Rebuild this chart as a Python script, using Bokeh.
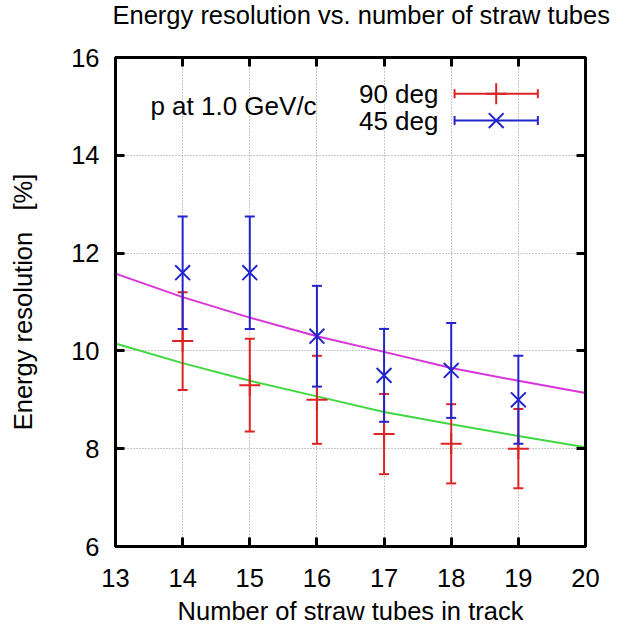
from bokeh.plotting import figure
from bokeh.models import (LinearAxis, Range1d, Label, FixedTicker, Whisker, TeeHead,
                          ColumnDataSource, CustomLabelingPolicy)
from bokeh.embed import file_html
from bokeh.resources import INLINE

# ---- data ----
tubes = [14, 15, 16, 17, 18, 19]
res_90 = [10.2, 9.3, 9.0, 8.3, 8.1, 8.0]
err_90 = [1.0, 0.95, 0.9, 0.82, 0.81, 0.81]
res_45 = [11.6, 11.6, 10.3, 9.5, 9.6, 9.0]
err_45 = [1.15, 1.15, 1.03, 0.95, 0.97, 0.9]
fit_x = [13, 14, 15, 16, 17, 18, 19, 20]
fit_90 = [10.15, 9.75, 9.39, 9.07, 8.75, 8.50, 8.26, 8.03]
fit_45 = [11.58, 11.10, 10.68, 10.30, 9.98, 9.65, 9.39, 9.14]
x_ticks = [13, 14, 15, 16, 17, 18, 19, 20]
y_ticks = [6, 8, 10, 12, 14, 16]
series_labels = ["90 deg", "45 deg"]
title_text = "Energy resolution vs. number of straw tubes"

FONT = "Liberation Sans"
FS = "25.5px"
FS_IN = "26px"
RED = "#dc2424"
BLUE = "#2424cc"
GREEN = "#40d840"
MAGENTA = "#d834d8"

p = figure(frame_width=470, frame_height=489, x_range=Range1d(13, 20), y_range=Range1d(6, 16),
           output_backend="svg", toolbar_location=None,
           min_border_left=115, min_border_right=33, min_border_top=57,
           min_border_bottom=67)
p.title.text = ""
p.title.standoff = 0

p.outline_line_color = "black"
p.outline_line_width = 3
p.outline_line_alpha = 1.0

for ax, ticks in ((p.xaxis[0], x_ticks), (p.yaxis[0], y_ticks)):
    ax.ticker = FixedTicker(ticks=ticks)
    ax.major_tick_in = 9
    ax.major_tick_out = 0
    ax.minor_tick_in = 0
    ax.minor_tick_out = 0
    ax.major_tick_line_width = 3
    ax.major_tick_line_color = "black"
    ax.axis_line_width = 3
    ax.axis_line_color = "black"
    ax.major_label_text_font = FONT
    ax.major_label_text_font_size = FS
    ax.major_label_text_color = "black"
    ax.axis_label_text_font = FONT
    ax.axis_label_text_font_size = FS
    ax.axis_label_text_font_style = "normal"
    ax.axis_label_text_color = "black"

p.xaxis.axis_label = "Number of straw tubes in track"
p.yaxis.axis_label = "Energy resolution \u00a0 [%]"
p.xaxis.major_label_standoff = 22
p.xaxis.axis_label_standoff = 7
p.yaxis.major_label_standoff = 16
p.yaxis.axis_label_standoff = 31

# mirror axes (ticks only, no labels drawn)
no_labels = CustomLabelingPolicy(code="""
for (const i of indices) indices.unset(i)
return indices
""")
for loc, ticks in (("above", x_ticks), ("right", y_ticks)):
    ax = LinearAxis(ticker=FixedTicker(ticks=ticks), major_tick_in=9, major_tick_out=0,
                    minor_tick_in=0, minor_tick_out=0, major_tick_line_width=3,
                    axis_line_width=3, major_label_standoff=0,
                    major_label_policy=no_labels)
    p.add_layout(ax, loc)

p.grid.grid_line_color = "#909090"
p.grid.grid_line_dash = "1 2"
p.grid.grid_line_width = 1

# title drawn as a label in the panel above the frame
p.add_layout(Label(x=-3, y=32, x_units="screen", y_units="screen", text=title_text,
                   text_align="left", text_baseline="alphabetic", text_font=FONT,
                   text_font_size=FS, text_color="black"), "above")

# fit curves
p.line(fit_x, fit_90, line_color=GREEN, line_width=2)
p.line(fit_x, fit_45, line_color=MAGENTA, line_width=2)

# error bars
def add_series(vals, errs, color, marker, size):
    src = ColumnDataSource(dict(x=tubes, y=vals,
                                lo=[v - e for v, e in zip(vals, errs)],
                                hi=[v + e for v, e in zip(vals, errs)]))
    w = Whisker(base="x", lower="lo", upper="hi", source=src, dimension="height",
                line_color=color, line_width=2,
                lower_head=TeeHead(size=10, line_color=color, line_width=2),
                upper_head=TeeHead(size=10, line_color=color, line_width=2))
    w.level = "glyph"
    p.add_layout(w)
    p.scatter("x", "y", source=src, marker=marker, size=size, line_color=color,
              line_width=2, fill_color=None)

add_series(res_90, err_90, RED, "cross", 21)
add_series(res_45, err_45, BLUE, "x", 21)

# key (gnuplot style: text, then sample)
key_y = [15.26, 14.71]
key_colors = [RED, BLUE]
key_markers = ["cross", "x"]
for lab, ky, col, mk in zip(series_labels, key_y, key_colors, key_markers):
    p.add_layout(Label(x=17.81, y=ky, text=lab, text_align="right", text_baseline="middle",
                       text_font=FONT, text_font_size=FS_IN, text_color="black"))
    ksrc = ColumnDataSource(dict(y=[ky], x0=[18.05], x1=[19.29], xm=[18.67]))
    kw = Whisker(base="y", lower="x0", upper="x1", source=ksrc, dimension="width",
                 line_color=col, line_width=2,
                 lower_head=TeeHead(size=9, line_color=col, line_width=2),
                 upper_head=TeeHead(size=9, line_color=col, line_width=2))
    kw.level = "glyph"
    p.add_layout(kw)
    p.scatter("xm", "y", source=ksrc, marker=mk, size=21, line_color=col, line_width=2,
              fill_color=None)

p.add_layout(Label(x=13.52, y=15.0, text="p at 1.0 GeV/c", text_align="left",
                   text_baseline="middle", text_font=FONT, text_font_size=FS_IN,
                   text_color="black"))

open("out.html", "w").write(file_html(p, INLINE))
